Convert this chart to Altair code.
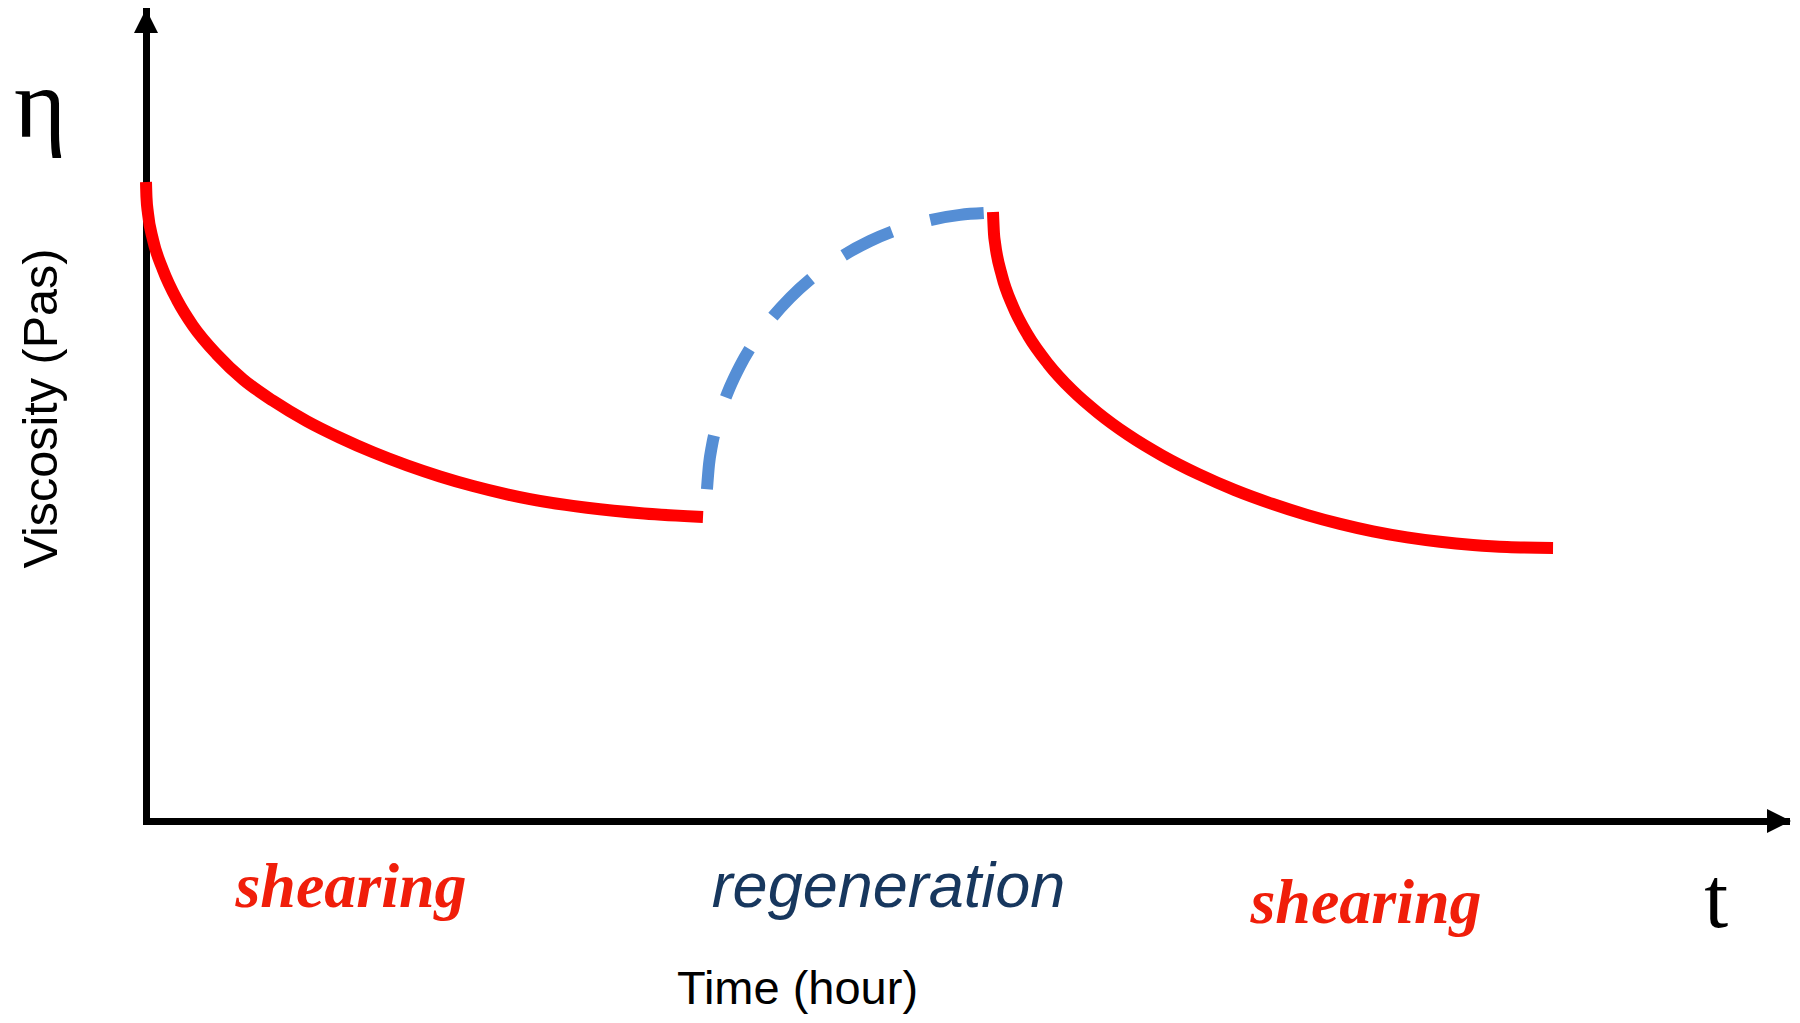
import altair as alt
import pandas as pd

# ---- data (time in h, viscosity in arbitrary Pa·s units) ----
shear1_t = [0.0, 0.006, 0.024, 0.085, 0.207, 0.378, 0.573, 0.866, 1.183, 1.549, 1.963,
            2.366, 2.768, 3.183, 3.585, 3.988, 4.402, 4.683, 5.378, 6.073, 6.793]
shear1_eta = [78.60, 76.69, 74.75, 71.49, 67.80, 64.10, 60.91, 57.37, 54.33, 51.68, 49.17,
              47.14, 45.35, 43.74, 42.38, 41.20, 40.18, 39.59, 38.53, 37.83, 37.40]

regen_t = [6.841, 6.866, 6.902, 6.963, 7.037, 7.122, 7.244, 7.402, 7.610, 7.854, 8.134,
           8.463, 8.829, 9.195, 9.561, 9.927, 10.232]
regen_eta = [40.81, 43.86, 46.19, 48.82, 51.19, 53.39, 55.98, 58.71, 61.60, 64.35, 66.91,
             69.30, 71.34, 72.85, 73.91, 74.55, 74.78]

shear2_t = [10.329, 10.341, 10.354, 10.439, 10.573, 10.756, 11.000, 11.293, 11.610, 11.976,
            12.390, 12.829, 13.280, 13.732, 14.159, 14.561, 14.963, 15.378, 15.780, 16.183,
            16.598, 17.159]
shear2_eta = [74.91, 72.25, 71.11, 67.04, 63.28, 59.73, 56.25, 53.00, 50.20, 47.50,
              44.96, 42.69, 40.70, 39.02, 37.64, 36.54, 35.62, 34.88, 34.34, 33.95,
              33.69, 33.58]

phase_labels = ["shearing", "regeneration", "shearing"]
phase_t = [2.5, 9.055, 14.878]
phase_eta = [-10.58, -10.58, -12.55]

eta_symbol = {"label": "η", "x": -1.29, "y": 84.1}
t_symbol = {"label": "t", "x": 19.15, "y": -13.0}

arrow_t = [0.0, 19.915]
arrow_eta = [98.4, 0.0]

# ---- tables ----
shear_df = pd.DataFrame({
    "x": shear1_t + shear2_t,
    "y": shear1_eta + shear2_eta,
    "seg": ["s1"] * len(shear1_t) + ["s2"] * len(shear2_t),
})
regen_df = pd.DataFrame({"x": regen_t, "y": regen_eta})
shear_lab = pd.DataFrame({"x": [phase_t[0], phase_t[2]], "y": [phase_eta[0], phase_eta[2]],
                          "label": [phase_labels[0], phase_labels[2]]})
regen_lab = pd.DataFrame({"x": [phase_t[1]], "y": [phase_eta[1]], "label": [phase_labels[1]]})
eta_df = pd.DataFrame([eta_symbol])
t_df = pd.DataFrame([t_symbol])
arr_up = pd.DataFrame({"x": [arrow_t[0]], "y": [arrow_eta[0]]})
arr_right = pd.DataFrame({"x": [arrow_t[1]], "y": [arrow_eta[1]]})

W, H = 1640, 813
xs = alt.Scale(domain=[0, 20], nice=False, zero=False)
ys = alt.Scale(domain=[0, 100], nice=False, zero=False)

x_axis = alt.Axis(
    title="Time (hour)", labels=False, ticks=False, grid=False,
    domainColor="black", domainWidth=7, domainCap="square",
    titleFont="Liberation Sans", titleFontSize=47, titleFontWeight="normal",
    titleColor="black", titleX=651, titleY=182, titleBaseline="alphabetic",
    titleAlign="center",
)
y_axis = alt.Axis(
    title="Viscosity (Pas)", labels=False, ticks=False, grid=False,
    domainColor="black", domainWidth=7, domainCap="square",
    titleFont="Liberation Sans", titleFontSize=48.5, titleFontWeight="normal",
    titleColor="black", titleX=-90, titleY=400, titleAngle=270,
    titleBaseline="alphabetic", titleAlign="center",
)

X = alt.X("x:Q", scale=xs, axis=x_axis)
Y = alt.Y("y:Q", scale=ys, axis=y_axis)

shear_lines = alt.Chart(shear_df).mark_line(
    color="#FF0000", strokeWidth=12, interpolate="monotone", strokeCap="butt"
).encode(x=X, y=Y, detail="seg:N", order="x:Q")

regen_line = alt.Chart(regen_df).mark_line(
    color="#558ED5", strokeWidth=12, interpolate="monotone", strokeCap="butt",
    strokeDash=[54, 40]
).encode(x=X, y=Y, order="x:Q")

up_arrow = alt.Chart(arr_up).mark_point(
    shape="M-1,1L1,1L0,-1Z", size=576, filled=True, color="black", opacity=1
).encode(x=X, y=Y)

right_arrow = alt.Chart(arr_right).mark_point(
    shape="M-1,-1L1,0L-1,1Z", size=576, filled=True, color="black", opacity=1
).encode(x=X, y=Y)

shear_text = alt.Chart(shear_lab).mark_text(
    font="Liberation Serif", fontSize=64, fontWeight="bold", fontStyle="italic",
    color="#F01E0A", align="center", baseline="alphabetic"
).encode(x=X, y=Y, text="label:N")

regen_text = alt.Chart(regen_lab).mark_text(
    font="Liberation Sans", fontSize=63, fontStyle="italic",
    color="#17375E", align="center", baseline="alphabetic"
).encode(x=X, y=Y, text="label:N")

eta_text = alt.Chart(eta_df).mark_text(
    font="Liberation Serif", fontSize=100, color="black", align="center",
    baseline="alphabetic"
).encode(x=X, y=Y, text="label:N")

t_text = alt.Chart(t_df).mark_text(
    font="Liberation Serif", fontSize=86, color="black", align="center",
    baseline="alphabetic"
).encode(x=X, y=Y, text="label:N")

chart = alt.layer(
    shear_lines, regen_line, up_arrow, right_arrow, shear_text, regen_text,
    eta_text, t_text
).properties(
    width=W, height=H,
    autosize=alt.AutoSizeParams(type="none"),
    padding={"left": 138, "top": 0, "right": 6, "bottom": 194},
    background="white",
).configure_view(strokeOpacity=0)

chart.save("out.html", embed_options={"renderer": "svg", "actions": False})
